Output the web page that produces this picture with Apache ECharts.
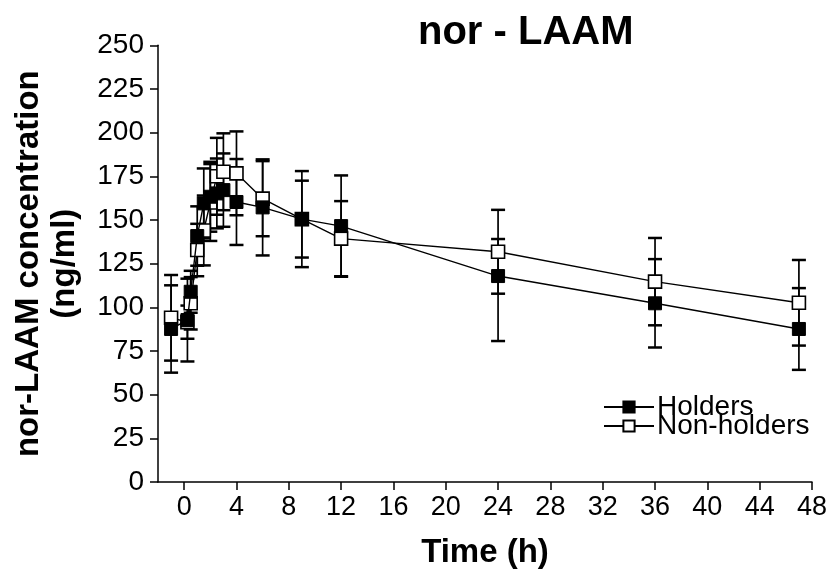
<!DOCTYPE html>
<html>
<head>
<meta charset="utf-8">
<script src="https://cdn.jsdelivr.net/npm/echarts@6/dist/echarts.min.js"></script>
<style>html,body{margin:0;padding:0;background:#fff}#c{width:830px;height:577px}</style>
</head>
<body>
<div id="c"></div>
<script>
const times = [-1, 0.25, 0.5, 1, 1.5, 2, 2.5, 3, 4, 6, 9, 12, 24, 36, 47];
const holdersMean = [87.6, 92.7, 108.9, 140.8, 159.5, 163.3, 165.2, 167.1, 160.3, 157.2, 150.5, 146.5, 117.9, 102.3, 87.6];
const holdersErrUp = [25, 23.7, 12, 17, 20, 20, 20, 21, 24.6, 27.5, 27.5, 29, 21.2, 25.3, 23.4];
const holdersErrDown = [25, 23.7, 12, 17, 20, 20, 20, 21, 24.6, 27.5, 27.5, 29, 37.2, 25.3, 23.4];
const nonMean = [94, 91.5, 102.3, 132.8, 144, 160, 175, 177.6, 176.7, 162.2, 150.5, 139.3, 131.8, 114.7, 102.6];
const nonErrUp = [24.5, 9.5, 15, 15, 20, 22, 22, 22, 24, 21.5, 22, 21.5, 24, 25, 24.5];
const nonErrDown = [24.5, 9.5, 15, 15, 20, 22, 22, 22, 24, 21.5, 22, 21.5, 24, 25, 24.5];
const xTicks = [0, 4, 8, 12, 16, 20, 24, 28, 32, 36, 40, 44, 48];

const FONT = '"Liberation Sans", Arial, sans-serif';
const chart = echarts.init(document.getElementById('c'), null, {renderer: 'canvas'});

function pts(m) { return times.map((t, i) => [t, m[i]]); }
function errs(m, up, down) { return times.map((t, i) => [t, m[i] - down[i], m[i] + up[i]]); }

function errRender(params, api) {
  const x = api.value(0), lo = api.value(1), hi = api.value(2);
  const a = api.coord([x, hi]), b = api.coord([x, lo]);
  const w = 7;
  return {
    type: 'group',
    children: [
      {type: 'line', shape: {x1: a[0], y1: a[1], x2: b[0], y2: b[1]}, style: {stroke: '#000', lineWidth: 1.7}},
      {type: 'line', shape: {x1: a[0] - w, y1: a[1], x2: a[0] + w, y2: a[1]}, style: {stroke: '#000', lineWidth: 2.5}},
      {type: 'line', shape: {x1: b[0] - w, y1: b[1], x2: b[0] + w, y2: b[1]}, style: {stroke: '#000', lineWidth: 2.5}}
    ]
  };
}

const legendText = {fontFamily: FONT, fontSize: 28, color: '#000', lineHeight: 18, padding: [0, 0, 0, -2]};

chart.setOption({
  animation: false,
  backgroundColor: '#fff',
  textStyle: {fontFamily: FONT},
  title: {
    text: 'nor - LAAM', left: 413, top: 8,
    textStyle: {fontFamily: FONT, fontSize: 40, fontWeight: 'bold', color: '#000'}
  },
  legend: [
    {data: ['Holders'], orient: 'vertical', left: 598, top: 388, itemWidth: 50, itemHeight: 14, itemGap: 0, textStyle: legendText, selectedMode: false},
    {data: ['Non-holders'], orient: 'vertical', left: 598, top: 407, itemWidth: 50, itemHeight: 14, itemGap: 0, textStyle: legendText, selectedMode: false}
  ],
  grid: {left: 158, right: 18, top: 45.3, bottom: 95, containLabel: false},
  xAxis: {
    type: 'value', min: -2, max: 48,
    name: 'Time (h)', nameLocation: 'middle', nameGap: 54,
    nameTextStyle: {fontFamily: FONT, fontSize: 33, fontWeight: 'bold', color: '#000'},
    axisLine: {show: true, onZero: false, lineStyle: {color: '#000', width: 1.5}},
    axisTick: {show: true, length: 8, customValues: xTicks, lineStyle: {color: '#000', width: 1.5}},
    axisLabel: {customValues: xTicks, fontFamily: FONT, fontSize: 27, color: '#000', margin: 12},
    splitLine: {show: false}
  },
  yAxis: {
    type: 'value', min: 0, max: 250, interval: 25,
    name: 'nor-LAAM concentration\n(ng/ml)', nameLocation: 'middle', nameGap: 75, nameRotate: 90,
    nameTextStyle: {fontFamily: FONT, fontSize: 33, fontWeight: 'bold', color: '#000', lineHeight: 36},
    axisLine: {show: true, onZero: false, lineStyle: {color: '#000', width: 1.5}},
    axisTick: {show: true, length: 8, lineStyle: {color: '#000', width: 1.5}},
    axisLabel: {fontFamily: FONT, fontSize: 28, color: '#000', margin: 14},
    splitLine: {show: false}
  },
  series: [
    {type: 'custom', name: 'errNon', data: errs(nonMean, nonErrUp, nonErrDown), renderItem: errRender, z: 1, silent: true},
    {type: 'custom', name: 'errHolders', data: errs(holdersMean, holdersErrUp, holdersErrDown), renderItem: errRender, z: 1, silent: true},
    {
      type: 'line', name: 'Non-holders', data: pts(nonMean), z: 3,
      symbol: 'rect', symbolSize: 13, showAllSymbol: true,
      itemStyle: {color: '#fff', borderColor: '#000', borderWidth: 1.6},
      lineStyle: {color: '#000', width: 1.4},
      emphasis: {disabled: true}
    },
    {
      type: 'line', name: 'Holders', data: pts(holdersMean), z: 4,
      symbol: 'rect', symbolSize: 13, showAllSymbol: true,
      itemStyle: {color: '#000', borderColor: '#000', borderWidth: 1},
      lineStyle: {color: '#000', width: 1.4},
      emphasis: {disabled: true}
    }
  ]
});
</script>
</body>
</html>
